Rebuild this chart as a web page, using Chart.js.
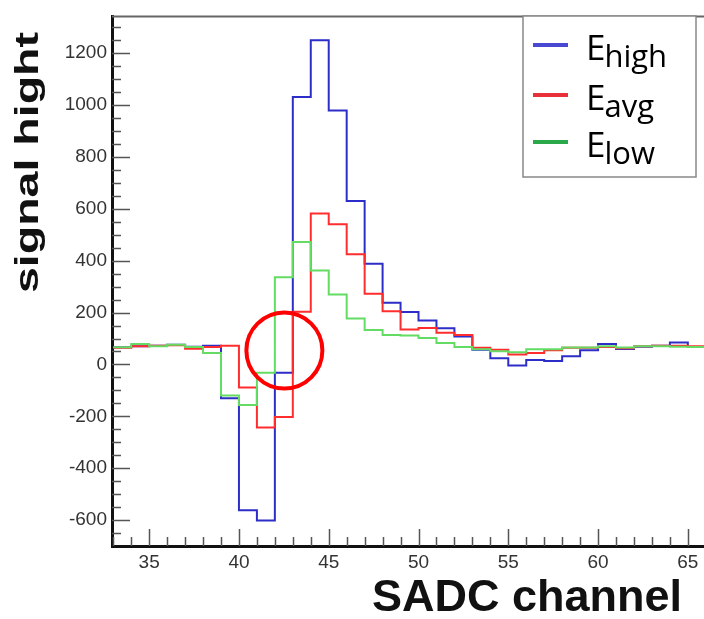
<!DOCTYPE html>
<html lang="en">
<head>
  <meta charset="UTF-8">
  <title>SADC signal</title>
  <script src="https://cdn.jsdelivr.net/npm/chart.js"></script>
  <style>
    html, body { margin: 0; padding: 0; background: #fff; overflow: hidden; }
    #wrap { width: 704px; height: 619px; }
  </style>
</head>
<body>
  <div id="wrap"><canvas id="sadc-chart" width="704" height="619"></canvas></div>

  <script>
// bin left edges (SADC channel)
const channels = [33, 34, 35, 36, 37, 38, 39, 40, 41, 42, 43, 44, 45, 46, 47, 48, 49,
  50, 51, 52, 53, 54, 55, 56, 57, 58, 59, 60, 61, 62, 63, 64, 65];

const eHigh = [66, 70, 72, 76, 68, 72, -130, -562, -602, -32, 1031, 1250, 979, 630, 388, 238, 202,
  169, 140, 108, 57, 24, -4, 17, 13, 32, 55, 79, 60, 68, 72, 85, 67];
const eAvg = [64, 70, 72, 74, 61, 67, 72, -89, -243, -203, 203, 582, 541, 425, 273, 205, 135,
  141, 122, 114, 64, 57, 38, 44, 55, 64, 64, 67, 62, 70, 72, 72, 70];
const eLow = [66, 79, 70, 76, 67, 44, -120, -156, -32, 336, 472, 362, 270, 177, 133, 114, 112,
  102, 83, 67, 59, 51, 47, 59, 59, 65, 65, 70, 65, 70, 70, 68, 67];

const xTicks = [35, 40, 45, 50, 55, 60, 65];
const yTicks = [-600, -400, -200, 0, 200, 400, 600, 800, 1000, 1200];

const seriesNames = ['high', 'avg', 'low'];
const lineColors = ['rgb(45,45,200)', 'rgb(255,45,45)', 'rgb(100,220,100)'];
const legendColors = ['#4848d0', '#e8303a', '#2aa84a'];

// histogram: value holds from left edge to next edge, close last bin at 66
function toSteps(vals) {
  const pts = channels.map((c, i) => ({ x: c, y: vals[i] }));
  pts.push({ x: channels[channels.length - 1] + 1, y: vals[vals.length - 1] });
  return pts;
}

const allSeries = [eHigh, eAvg, eLow];
const datasets = allSeries.map((vals, i) => ({
  label: 'E' + seriesNames[i],
  data: toSteps(vals),
  borderColor: lineColors[i],
  borderWidth: 2,
  stepped: true,
  pointRadius: 0,
  fill: false
}));
// draw red/green over blue like the picture
datasets.reverse();

// ROOT style inward ticks, frame, titles, legend and the circle mark
const decor = {
  id: 'decor',
  afterDatasetsDraw(chart) {
    const ctx = chart.ctx;
    const area = chart.chartArea;
    const xs = chart.scales.x, ys = chart.scales.y;
    ctx.save();

    // circle around the crossing
    ctx.strokeStyle = '#ff0000';
    ctx.lineWidth = 4;
    ctx.beginPath();
    ctx.arc(xs.getPixelForValue(42.53), ys.getPixelForValue(54), 38, 0, Math.PI * 2);
    ctx.stroke();

    // ticks
    ctx.strokeStyle = '#555';
    ctx.lineWidth = 1.5;
    ctx.beginPath();
    for (let c = 33; c <= 65; c++) {
      const px = Math.round(xs.getPixelForValue(c)) + 0.5;
      const len = c % 5 === 0 ? 17 : 9;
      ctx.moveTo(px, area.bottom);
      ctx.lineTo(px, area.bottom - len);
    }
    for (let v = -650; v <= 1300; v += 50) {
      const py = Math.round(ys.getPixelForValue(v)) + 0.5;
      const len = v % 200 === 0 ? 18 : 9;
      ctx.moveTo(area.left, py);
      ctx.lineTo(area.left + len, py);
    }
    ctx.stroke();

    // top frame
    ctx.strokeStyle = '#666';
    ctx.lineWidth = 2;
    ctx.beginPath();
    ctx.moveTo(area.left, area.top);
    ctx.lineTo(area.right, area.top);
    ctx.stroke();

    // axis titles
    ctx.fillStyle = '#111';
    ctx.font = 'bold 45px "Liberation Sans", Arial, sans-serif';
    ctx.textAlign = 'right';
    ctx.textBaseline = 'alphabetic';
    ctx.fillText('SADC channel', 682, 611);
    // y title is stretched along its length in the picture
    ctx.save();
    ctx.font = 'bold 33px "Liberation Sans", Arial, sans-serif';
    ctx.translate(38, 32);
    ctx.rotate(-Math.PI / 2);
    const tw = ctx.measureText('signal hight').width;
    ctx.scale(261 / tw, 1);
    ctx.textAlign = 'right';
    ctx.fillText('signal hight', 0, 0);
    ctx.restore();

    // legend
    const lx = 523, ly = 16, lw = 173, lh = 161;
    ctx.fillStyle = '#fff';
    ctx.fillRect(lx, ly, lw, lh);
    ctx.strokeStyle = '#888';
    ctx.lineWidth = 1.5;
    ctx.strokeRect(lx, ly, lw, lh);
    const baselines = [60, 110, 157];
    seriesNames.forEach((name, i) => {
      const b = baselines[i];
      ctx.strokeStyle = legendColors[i];
      ctx.lineWidth = 4;
      ctx.beginPath();
      ctx.moveTo(533, b - 15);
      ctx.lineTo(568, b - 15);
      ctx.stroke();
      ctx.fillStyle = '#000';
      ctx.textAlign = 'left';
      ctx.font = '35px "Open Sans", "Noto Sans", sans-serif';
      ctx.fillText('E', 586, b);
      const ew = ctx.measureText('E').width;
      ctx.font = '31px "Open Sans", "Noto Sans", sans-serif';
      ctx.fillText(name, 586 + ew - 1, b + 7);
    });

    ctx.restore();
  }
};

new Chart(document.getElementById('sadc-chart'), {
  type: 'line',
  data: { datasets: datasets },
  options: {
    responsive: false,
    animation: false,
    layout: { padding: { top: 9, right: 0, left: 0, bottom: 0 } },
    plugins: {
      legend: { display: false },
      tooltip: { enabled: false }
    },
    scales: {
      x: {
        type: 'linear',
        min: 32.93,
        max: 65.9,
        grid: { display: false, drawTicks: false },
        border: { display: true, color: '#111', width: 3 },
        afterBuildTicks: (axis) => { axis.ticks = xTicks.map(v => ({ value: v })); },
        afterFit: (axis) => { axis.height = 73; },
        ticks: {
          padding: 5,
          maxRotation: 0,
          autoSkip: false,
          color: '#333',
          callback: (v) => String(v),
          font: { family: '"Liberation Sans", Arial, sans-serif', size: 19 }
        }
      },
      y: {
        min: -700,
        max: 1342,
        grid: { display: false, drawTicks: false },
        border: { display: true, color: '#111', width: 3 },
        afterBuildTicks: (axis) => { axis.ticks = yTicks.map(v => ({ value: v })); },
        afterFit: (axis) => { axis.width = 112; },
        ticks: {
          padding: 5,
          autoSkip: false,
          color: '#333',
          callback: (v) => String(v),
          font: { family: '"Liberation Sans", Arial, sans-serif', size: 19 }
        }
      }
    }
  },
  plugins: [decor]
});
  </script>
</body>
</html>
